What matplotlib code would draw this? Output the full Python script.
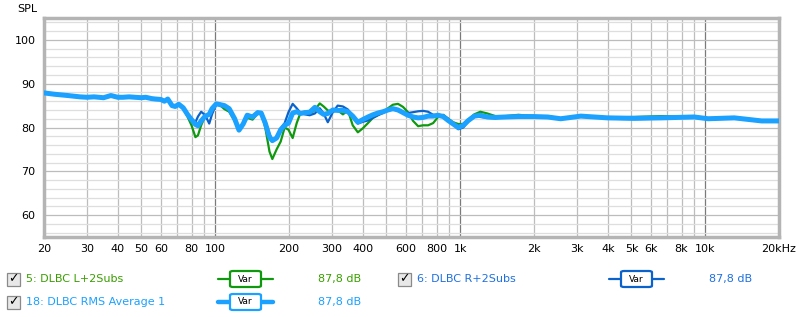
import matplotlib
matplotlib.use("Agg")
import matplotlib.pyplot as plt
from matplotlib.patches import Rectangle, FancyBboxPatch
from matplotlib.lines import Line2D

# ------------------------------------------------------------------
# data (frequency in Hz, level in dB SPL)
# ------------------------------------------------------------------
freq = [20, 22, 25, 28, 30, 32, 35, 37.5, 40, 42, 44.5, 47, 50, 52, 55, 57,
        60, 62, 64, 66.6, 68.6, 71, 74, 77, 80, 83, 85, 87.6, 91, 94.5, 97,
        101, 105, 109, 114, 120, 125, 130, 135, 142, 149, 154, 160, 166.5,
        171, 178, 185, 192, 199, 207, 215, 223, 232, 243, 255, 267, 277, 288,
        302, 316, 332, 348, 364, 382, 400, 420, 440, 461, 484, 507, 531, 557,
        584, 612, 642, 673, 705, 739, 775, 812, 852, 893, 936, 981, 1029,
        1079, 1141, 1208, 1290, 1391, 1529, 1728, 1992, 2273, 2571, 3105,
        4002, 5112, 6600, 9014, 10282, 13140, 16982, 20000]

avg = [87.9, 87.6, 87.3, 87.0, 86.9, 87.0, 86.8, 87.3, 86.9, 86.9, 87.0, 86.9,
       86.8, 86.9, 86.6, 86.5, 86.4, 86.0, 86.5, 85.0, 84.8, 85.3, 84.5, 83.0,
       81.8, 80.7, 80.4, 81.5, 82.6, 83.0, 84.3, 85.4, 85.2, 85.0, 84.3, 82.0,
       79.4, 80.8, 82.8, 82.4, 83.4, 83.3, 81.0, 77.8, 77.0, 77.6, 79.5, 80.5,
       81.0, 83.3, 83.6, 83.2, 83.4, 83.5, 84.6, 83.6, 83.0, 83.2, 84.0, 83.9,
       83.9, 83.6, 82.6, 81.2, 81.8, 82.4, 82.9, 83.3, 83.6, 84.0, 84.3, 84.0,
       83.4, 82.8, 82.4, 82.2, 82.3, 82.6, 82.6, 82.8, 82.5, 81.6, 80.8, 80.0,
       80.5, 81.6, 82.6, 82.8, 82.4, 82.3, 82.4, 82.5, 82.5, 82.4, 82.0, 82.6,
       82.2, 82.1, 82.2, 82.4, 82.0, 82.2, 81.5, 81.5]

left = [87.9, 87.6, 87.3, 87.0, 86.9, 87.0, 86.8, 87.3, 86.9, 86.9, 87.0, 86.9,
        86.8, 86.9, 86.6, 86.5, 86.4, 86.0, 86.5, 85.0, 84.8, 85.3, 84.5, 82.5,
        80.5, 77.8, 78.2, 80.5, 82.6, 83.3, 84.5, 85.4, 85.0, 84.2, 83.6, 81.5,
        79.2, 80.5, 82.2, 81.8, 83.2, 83.4, 80.0, 74.5, 72.8, 75.0, 76.8, 80.0,
        79.5, 77.6, 81.0, 83.4, 83.6, 83.0, 84.0, 85.5, 84.8, 83.9, 83.6, 83.9,
        83.0, 83.9, 80.5, 78.9, 79.8, 81.0, 82.2, 82.8, 83.5, 84.4, 85.2, 85.4,
        84.7, 83.5, 81.5, 80.3, 80.5, 80.5, 81.0, 82.4, 82.9, 82.0, 81.2, 80.8,
        80.8, 81.8, 83.0, 83.6, 83.2, 82.6, 82.6, 82.9, 82.6, 82.4, 82.0, 82.6,
        82.3, 82.4, 82.6, 82.4, 82.0, 82.2, 81.5, 81.5]

right = [87.9, 87.6, 87.3, 87.0, 86.9, 87.0, 86.8, 87.3, 86.9, 86.9, 87.0, 86.9,
         86.8, 86.9, 86.6, 86.5, 86.4, 86.0, 86.5, 85.0, 84.8, 85.3, 84.5, 83.0,
         82.0, 81.2, 82.5, 83.6, 82.8, 80.9, 83.0, 85.4, 85.4, 85.0, 84.5, 82.2,
         79.6, 81.0, 83.0, 82.6, 83.6, 83.2, 81.5, 78.5, 77.2, 77.6, 79.8, 81.0,
         83.5, 85.4, 84.4, 83.3, 83.0, 82.8, 83.2, 84.4, 83.2, 81.2, 83.5, 85.0,
         84.8, 84.1, 82.4, 80.9, 81.3, 81.6, 82.2, 82.8, 83.3, 84.0, 84.3, 84.0,
         83.5, 83.3, 83.5, 83.7, 83.8, 83.6, 82.9, 82.8, 82.8, 82.0, 80.8, 79.6,
         80.0, 81.4, 82.5, 82.4, 82.2, 82.1, 82.4, 82.5, 82.5, 82.4, 82.0, 82.6,
         82.0, 81.9, 82.0, 82.4, 82.0, 82.2, 81.5, 81.5]

x_ticks = [20, 30, 40, 50, 60, 80, 100, 200, 300, 400, 600, 800,
           1000, 2000, 3000, 4000, 5000, 6000, 8000, 10000, 20000]
x_labels = ["20", "30", "40", "50", "60", "80", "100", "200", "300", "400",
            "600", "800", "1k", "2k", "3k", "4k", "5k", "6k", "8k", "10k", "20kHz"]
y_ticks = [60, 70, 80, 90, 100]

names = ["5: DLBC L+2Subs", "6: DLBC R+2Subs", "18: DLBC RMS Average 1"]
levels = ["87,8 dB", "87,8 dB", "87,8 dB"]

GREEN = "#0f990f"
DBLUE = "#0a62cc"
LBLUE = "#1ba1ff"
TXT_GREEN = "#3a9e00"
TXT_DBLUE = "#1f70e0"
TXT_LBLUE = "#1ba1ff"

plt.rcParams["font.family"] = "DejaVu Sans"

fig = plt.figure(figsize=(8, 3.17), dpi=100)
ax = fig.add_axes([44 / 800, 1 - 237 / 317, 735 / 800, 219 / 317])

# grid: minor decades + 2 dB steps, darker decade lines
minor_x = [m * d for d in (10, 100, 1000, 10000) for m in range(1, 10)
           if 20 <= m * d <= 20000]
for f in minor_x:
    if f in (100, 1000, 10000):
        ax.axvline(f, color="#7a7a7a", lw=0.9, zorder=1)
    else:
        ax.axvline(f, color="#bdbdbd", lw=0.9, zorder=1)
for db in range(56, 106, 2):
    c = "#bcbcbc" if db % 10 == 0 else "#dedede"
    ax.axhline(db, color=c, lw=0.9, zorder=1)

ax.semilogx(freq, left, color=GREEN, lw=1.6, zorder=3)
ax.semilogx(freq, right, color=DBLUE, lw=1.6, zorder=4)
ax.semilogx(freq, avg, color=LBLUE, lw=3.6, zorder=5, solid_capstyle="round")

ax.set_xlim(20, 20000)
ax.set_ylim(55, 105)
ax.set_xticks(x_ticks)
ax.set_xticklabels(x_labels)
ax.minorticks_off()
ax.set_yticks(y_ticks)
ax.tick_params(length=0, labelsize=8, colors="black", pad=6)
ax.tick_params(axis="x", pad=5)
for s in ax.spines.values():
    s.set_color("#b4b4b4")
    s.set_linewidth(2.5)

fig.text(27 / 800, 1 - 9 / 317, "SPL", fontsize=8, ha="center", va="center")

# ------------------------------------------------------------------
# legend rows below the plot
# ------------------------------------------------------------------
def px(x, y):
    return x / 800, 1 - y / 317


def legend_row(x0, y, name, level, line_col, txt_col, thick):
    # checkbox
    cx, cy = px(x0, y + 6.5)
    fig.patches.append(Rectangle((cx, cy), 13 / 800, 13 / 317, transform=fig.transFigure,
                                 facecolor="#e8e8e8", edgecolor="#8a8a8a", lw=0.9))
    fig.text(*px(x0 + 6.5, y), "\u2713", fontsize=9, fontweight="bold",
             ha="center", va="center")
    fig.text(*px(x0 + 19, y), name, fontsize=8, color=txt_col, va="center")
    # line sample with Var box
    lx0, ly = px(x0 + 211, y)
    lx1, _ = px(x0 + 266, y)
    fig.lines.append(Line2D([lx0, lx1], [ly, ly], transform=fig.transFigure,
                            color=line_col, lw=3.2 if thick else 1.6,
                            solid_capstyle="round"))
    bx, by = px(x0 + 223, y + 8)
    fig.patches.append(FancyBboxPatch((bx, by), 31 / 800, 16 / 317,
                                      boxstyle="round,pad=0,rounding_size=0.004",
                                      transform=fig.transFigure, facecolor="white",
                                      edgecolor=line_col, lw=1.6, zorder=3))
    fig.text(*px(x0 + 238.5, y), "Var", fontsize=6.5, ha="center", va="center", zorder=4)
    fig.text(*px(x0 + 311, y), level, fontsize=8, color=txt_col, va="center")


legend_row(7, 279, names[0], levels[0], GREEN, TXT_GREEN, False)
legend_row(398, 279, names[1], levels[1], DBLUE, TXT_DBLUE, False)
legend_row(7, 302, names[2], levels[2], LBLUE, TXT_LBLUE, True)

fig.savefig("out.png", dpi=100, facecolor="white")
